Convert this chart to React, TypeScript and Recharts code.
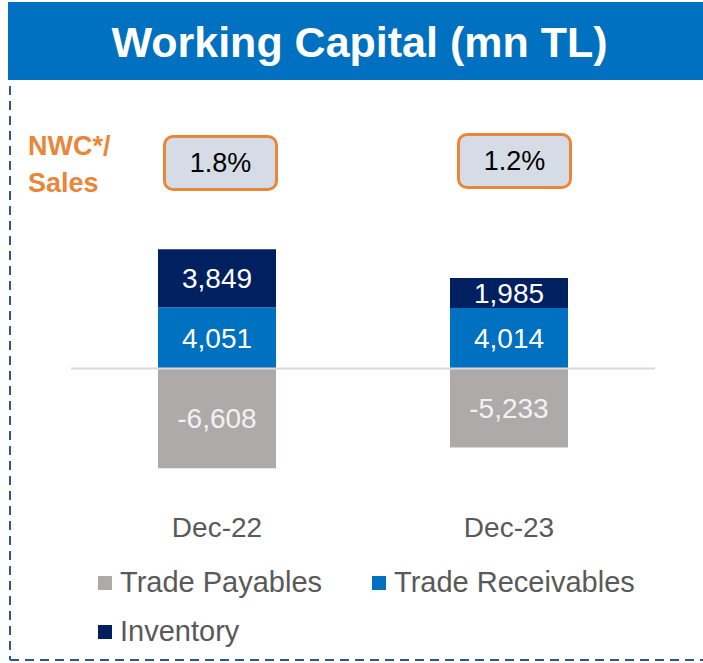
import { BarChart, Bar, XAxis, YAxis, ReferenceLine, LabelList } from 'recharts';

const categories = ['Dec-22', 'Dec-23'];
const tradePayables = [-6608, -5233];
const tradeReceivables = [4051, 4014];
const inventory = [3849, 1985];
const nwcSales = ['1.8%', '1.2%'];

const seriesNames = ['Trade Payables', 'Trade Receivables', 'Inventory'];
const seriesColors = ['#AEAAAA', '#0070C0', '#002060'];

const FONT = '"Liberation Sans", Arial, sans-serif';

const data = categories.map((name, i) => ({
  name,
  payables: tradePayables[i],
  receivables: tradeReceivables[i],
  inventory: inventory[i],
}));

const fmt = (v: any) => Number(v).toLocaleString('en-US');

const CategoryTick = ({ x, y, payload }: any) => (
  <text x={x} y={y} dy={9} textAnchor="middle" fontSize={28} fill="#595959" fontFamily={FONT}>
    {payload.value}
  </text>
);

// box positions for the NWC/Sales callouts
const boxLeft = [163, 457];
const boxTop = [135, 133];

export default function App() {
  return (
    <div style={{ position: 'relative', width: 703, height: 663, background: '#fff', fontFamily: FONT, overflow: 'hidden' }}>
      <style>{'body{margin:0}'}</style>

      <div
        style={{
          position: 'absolute', left: 8, top: 2, width: 695, height: 78, background: '#0070C0',
          color: '#fff', fontWeight: 'bold', fontSize: 43, lineHeight: '80px', textAlign: 'center',
          paddingLeft: 8, boxSizing: 'border-box',
        }}
      >
        Working Capital (mn TL)
      </div>

      <svg width={703} height={663} style={{ position: 'absolute', left: 0, top: 0 }}>
        <line x1={10} y1={86} x2={10} y2={660} stroke="#2E5496" strokeWidth={2} strokeDasharray="9 6" />
        <line x1={10} y1={660} x2={703} y2={660} stroke="#2E5496" strokeWidth={2} strokeDasharray="9 6" />
      </svg>

      <div
        style={{
          position: 'absolute', left: 28, top: 128, color: '#E8873A', fontWeight: 'bold',
          fontSize: 27, lineHeight: '37px',
        }}
      >
        NWC*/<br />Sales
      </div>

      {nwcSales.map((v, i) => (
        <div
          key={v}
          style={{
            position: 'absolute', left: boxLeft[i], top: boxTop[i], width: 115, height: 56,
            border: '3px solid #E8873A', borderRadius: 10, background: '#D6DCE5', boxSizing: 'border-box',
            fontSize: 27, lineHeight: '50px', textAlign: 'center', color: '#000',
          }}
        >
          {v}
        </div>
      ))}

      <div style={{ position: 'absolute', left: 0, top: 0 }}>
        <BarChart
          width={703}
          height={663}
          data={data}
          stackOffset="sign"
          margin={{ top: 217.5, right: 48, bottom: 113.5, left: 71 }}
        >
          <XAxis dataKey="name" axisLine={false} tickLine={false} height={30} tick={<CategoryTick />} />
          <YAxis hide domain={[-10000, 10000]} />
          <Bar dataKey="payables" name={seriesNames[0]} stackId="a" fill={seriesColors[0]} barSize={118} isAnimationActive={false}>
            <LabelList dataKey="payables" position="center" formatter={fmt} fill="#F2F2F2" fontSize={28} fontFamily={FONT} />
          </Bar>
          <Bar dataKey="receivables" name={seriesNames[1]} stackId="a" fill={seriesColors[1]} barSize={118} isAnimationActive={false}>
            <LabelList dataKey="receivables" position="center" formatter={fmt} fill="#fff" fontSize={28} fontFamily={FONT} />
          </Bar>
          <Bar dataKey="inventory" name={seriesNames[2]} stackId="a" fill={seriesColors[2]} barSize={118} isAnimationActive={false}>
            <LabelList dataKey="inventory" position="center" formatter={fmt} fill="#fff" fontSize={28} fontFamily={FONT} />
          </Bar>
          <ReferenceLine y={0} stroke="#D9D9D9" strokeWidth={2} />
        </BarChart>
      </div>

      <div style={{ position: 'absolute', left: 98, top: 558, width: 545, display: 'flex', flexWrap: 'wrap' }}>
        {seriesNames.map((n, i) => (
          <div key={n} style={{ display: 'flex', alignItems: 'center', height: 49, marginRight: i === 0 ? 50 : 0 }}>
            <span style={{ width: 14, height: 14, background: seriesColors[i], marginRight: 8, display: 'inline-block' }} />
            <span style={{ fontSize: 29, color: '#595959', whiteSpace: 'nowrap' }}>{n}</span>
          </div>
        ))}
      </div>
    </div>
  );
}
